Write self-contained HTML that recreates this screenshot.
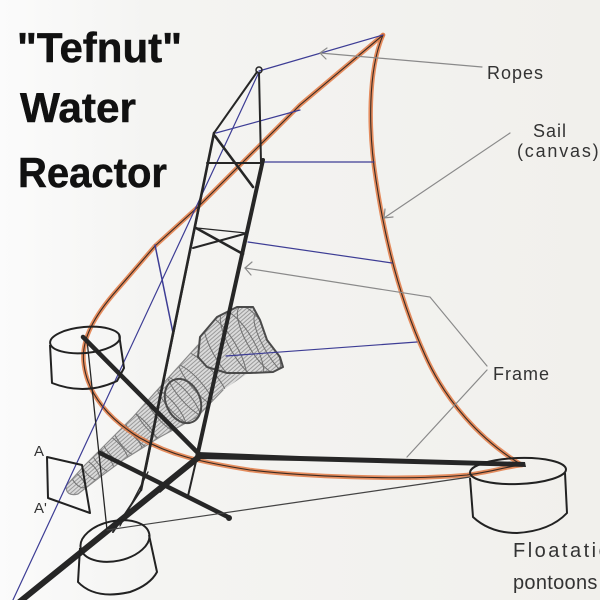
<!DOCTYPE html>
<html><head><meta charset="utf-8"><style>
html,body{margin:0;padding:0;width:600px;height:600px;overflow:hidden;background:#f2f1ed}
svg{display:block}
</style></head><body>
<svg width="600" height="600" viewBox="0 0 600 600" xmlns="http://www.w3.org/2000/svg">
<defs>
<linearGradient id="paper" x1="0" y1="0" x2="1" y2="0">
<stop offset="0" stop-color="#fbfbfb"/><stop offset="0.25" stop-color="#f4f4f2"/><stop offset="1" stop-color="#f1f0ec"/>
</linearGradient>
<pattern id="mesh" width="3" height="9" patternUnits="userSpaceOnUse" patternTransform="rotate(-41)">
<rect width="3" height="9" fill="#dadada"/>
<line x1="0" y1="1.5" x2="3" y2="1.5" stroke="#8a8a8a" stroke-width="0.8"/>
<line x1="0" y1="4.5" x2="3" y2="4.5" stroke="#8a8a8a" stroke-width="0.8"/>
<line x1="0" y1="7.5" x2="3" y2="7.5" stroke="#8a8a8a" stroke-width="0.8"/>
</pattern>
<clipPath id="coneClip"><path d="M66,486 L83,467 L107,443 L133,417 L160,387 L198,345 L250,372 L223,390 L197,417 L160,437 L123,460 L100,477 L78,494 Q66,497 66,486 Z"/></clipPath>
<clipPath id="mouthClip"><path d="M198,357 L200,337 L217,317 L237,307 L253,307 L260,320 L267,340 L280,357 L283,367 L273,372 L250,373 L227,373 L207,367 Z"/></clipPath>
</defs>
<rect width="600" height="600" fill="url(#paper)"/>

<!-- Title -->
<g font-family="Liberation Sans, Arial, sans-serif" font-weight="bold" font-size="42" fill="#111" stroke="#111" stroke-width="0.5">
<text x="17" y="62" textLength="165" lengthAdjust="spacingAndGlyphs">"Tefnut"</text>
<text x="20" y="122" textLength="116" lengthAdjust="spacingAndGlyphs">Water</text>
<text x="18" y="187" textLength="149" lengthAdjust="spacingAndGlyphs">Reactor</text>
</g>

<!-- Cone mesh -->
<g>
<path d="M66,486 L83,467 L107,443 L133,417 L160,387 L198,345 L250,372 L223,390 L197,417 L160,437 L123,460 L100,477 L78,494 Q66,497 66,486 Z" fill="url(#mesh)"/>
<g clip-path="url(#coneClip)">
<g transform="translate(68,487) rotate(-41)" fill="none" stroke="#707070" stroke-width="1">
<ellipse cx="12" cy="1" rx="4" ry="10"/>
<ellipse cx="28" cy="1.5" rx="5" ry="13"/>
<ellipse cx="44" cy="2" rx="6" ry="16"/>
<ellipse cx="60" cy="3" rx="7" ry="18.5"/>
<ellipse cx="76" cy="4" rx="8" ry="21"/>
<ellipse cx="92" cy="5" rx="9" ry="24"/>
<ellipse cx="108" cy="5.5" rx="10" ry="27"/>
<ellipse cx="124" cy="6" rx="11" ry="30"/>
<ellipse cx="140" cy="7" rx="12" ry="32.5"/>
<ellipse cx="156" cy="8" rx="13" ry="35"/>
<ellipse cx="172" cy="8" rx="13" ry="37"/>
</g>
</g>
<g fill="none" stroke="#8a8a8a" stroke-width="1.2" stroke-linecap="round">
<path d="M66,486 L83,467 L107,443 L133,417 L160,387 L198,345"/>
<path d="M223,390 L197,417 L160,437 L123,460 L100,477 L78,494 Q66,497 66,486"/>
</g>
<path d="M198,357 L200,337 L217,317 L237,307 L253,307 L260,320 L267,340 L280,357 L283,367 L273,372 L250,373 L227,373 L207,367 Z" fill="url(#mesh)"/>
<g clip-path="url(#mouthClip)" fill="none" stroke="#707070" stroke-width="1">
<ellipse cx="225" cy="350" rx="12" ry="38" transform="rotate(-30 225 350)"/>
<ellipse cx="242" cy="345" rx="12" ry="38" transform="rotate(-30 242 345)"/>
<ellipse cx="259" cy="340" rx="12" ry="38" transform="rotate(-30 259 340)"/>
<ellipse cx="274" cy="345" rx="10" ry="36" transform="rotate(-30 274 345)"/>
</g>
<path d="M198,357 L200,337 L217,317 L237,307 L253,307 L260,320 L267,340 L280,357 L283,367 L273,372 L250,373 L227,373 L207,367 Z" fill="none" stroke="#4a4a4a" stroke-width="2" stroke-linejoin="round"/>
<ellipse cx="183" cy="401" rx="17" ry="23" transform="rotate(-25 183 401)" fill="none" stroke="#4a4a4a" stroke-width="2"/>
</g>

<!-- Sail: orange pencil + black line -->
<g fill="none" stroke-linecap="round" stroke-linejoin="round">
<path d="M383,35 L300,105 L240,165 L200,205 L155,246 L117,290 C95,315 80,340 84,365 C88,395 110,420 140,438 C170,455 200,462 250,470 C300,476 400,481 467,475 C490,472 505,467 522,465" stroke="#e27a44" stroke-width="4.5" opacity="0.85"/>
<path d="M383,35 C368,70 368,130 376,180 C385,240 400,300 425,355 C445,400 480,440 522,465" stroke="#e27a44" stroke-width="4.5" opacity="0.85"/>
<path d="M383,35 L300,105 L240,165 L200,205 L155,246 L117,290 C95,315 80,340 84,365 C88,395 110,420 140,438 C170,455 200,462 250,470 C300,476 400,481 467,475 C490,472 505,467 522,465" stroke="#3a2a22" stroke-width="1.1"/>
<path d="M383,35 C368,70 368,130 376,180 C385,240 400,300 425,355 C445,400 480,440 522,465" stroke="#3a2a22" stroke-width="1.1"/>
</g>

<!-- Blue ropes -->
<g stroke="#3d3d95" stroke-width="1.2" fill="none" stroke-linecap="round">
<line x1="383" y1="35" x2="259" y2="71"/>
<line x1="259" y1="72" x2="12" y2="602"/>
<line x1="216" y1="133" x2="300" y2="110"/>
<line x1="263" y1="162" x2="374" y2="162"/>
<line x1="248" y1="242" x2="392" y2="263"/>
<line x1="226" y1="356" x2="417" y2="342"/>
<line x1="155" y1="245" x2="173" y2="333" stroke-width="1.5"/>
</g>

<!-- Gray pointer lines -->
<g stroke="#8a8a8a" stroke-width="1.2" fill="none" stroke-linecap="round">
<line x1="482" y1="67" x2="320" y2="53"/>
<path d="M327,48 L320,53 L326,59"/>
<line x1="510" y1="133" x2="384" y2="218"/>
<path d="M385,209 L384,218 L393,217"/>
<path d="M487,366 L430,297 L245,268"/>
<path d="M252,262 L245,268 L251,275"/>
<line x1="487" y1="370" x2="407" y2="457"/>
</g>

<!-- Tower frame -->
<g stroke="#262626" fill="none" stroke-linecap="round" stroke-linejoin="round">
<circle cx="259" cy="70" r="3" stroke-width="1.5"/>
<line x1="257" y1="72" x2="214" y2="133" stroke-width="2"/>
<line x1="259" y1="73" x2="261" y2="162" stroke-width="2"/>
<line x1="214" y1="133" x2="141" y2="490" stroke-width="2.6"/>
<line x1="211" y1="150" x2="146" y2="470" stroke-width="1.2"/>
<line x1="141" y1="490" x2="113" y2="532" stroke-width="2"/>
<line x1="148" y1="472" x2="120" y2="526" stroke-width="1.3"/>
<line x1="263" y1="160" x2="197" y2="457" stroke-width="4"/>
<line x1="197" y1="457" x2="188" y2="496" stroke-width="2"/>
<line x1="193" y1="463" x2="160" y2="492" stroke-width="1.5"/>
<line x1="207" y1="163" x2="263" y2="163" stroke-width="2"/>
<line x1="215" y1="136" x2="253" y2="187" stroke-width="2.6"/>
<line x1="196" y1="228" x2="243" y2="254" stroke-width="2.6"/>
<line x1="193" y1="248" x2="244" y2="234" stroke-width="2"/>
<line x1="197" y1="228" x2="246" y2="233" stroke-width="1.2"/>
</g>

<!-- Base beams -->
<g stroke="#262626" fill="none" stroke-linecap="round">
<line x1="83" y1="337" x2="200" y2="455" stroke-width="4.5"/>
<line x1="100" y1="453" x2="228" y2="517" stroke-width="4.5"/>
<circle cx="229" cy="518" r="2.5" fill="#262626" stroke-width="1"/>
<line x1="12" y1="608" x2="200" y2="456" stroke-width="6"/>
<line x1="87" y1="340" x2="107" y2="530" stroke-width="1.3"/>
<line x1="107" y1="530" x2="470" y2="477" stroke-width="1.2" stroke="#444"/>
</g>
<path d="M198,452 L300,456 L525,462 L526,467 L300,461 L198,459 Z" fill="#262626"/>

<!-- Pontoons -->
<g stroke="#222" stroke-width="2" fill="none" stroke-linejoin="round">
<ellipse cx="85" cy="340" rx="35" ry="13" transform="rotate(-5 85 340)"/>
<path d="M50,345 L52,383 Q85,396 117,381 L124,368 L119,334"/>
<ellipse cx="115" cy="541" rx="35" ry="20" transform="rotate(-12 115 541)"/>
<path d="M80,548 L78,582 Q95,600 130,592 Q150,585 157,572 L149,535"/>
<ellipse cx="518" cy="471" rx="48" ry="13" transform="rotate(-2 518 471)"/>
<path d="M470,478 L473,517 Q490,533 517,533 Q550,531 567,513 L565,473"/>
<path d="M47,457 L82,465 L90,513 L48,498 Z"/>
</g>

<!-- Labels -->
<g font-family="Liberation Sans, Arial, sans-serif" font-size="18" fill="#333">
<text x="487" y="79" letter-spacing="1">Ropes</text>
<text x="533" y="137" letter-spacing="1">Sail</text>
<text x="517" y="157" letter-spacing="1.8">(canvas)</text>
<text x="493" y="380" letter-spacing="1">Frame</text>
<text x="513" y="557" font-size="20" letter-spacing="2.5">Floatation</text>
<text x="513" y="589" font-size="20" letter-spacing="0.3">pontoons</text>
<text x="34" y="456" font-size="15">A</text>
<text x="34" y="513" font-size="15">A'</text>
</g>
</svg>
</body></html>
